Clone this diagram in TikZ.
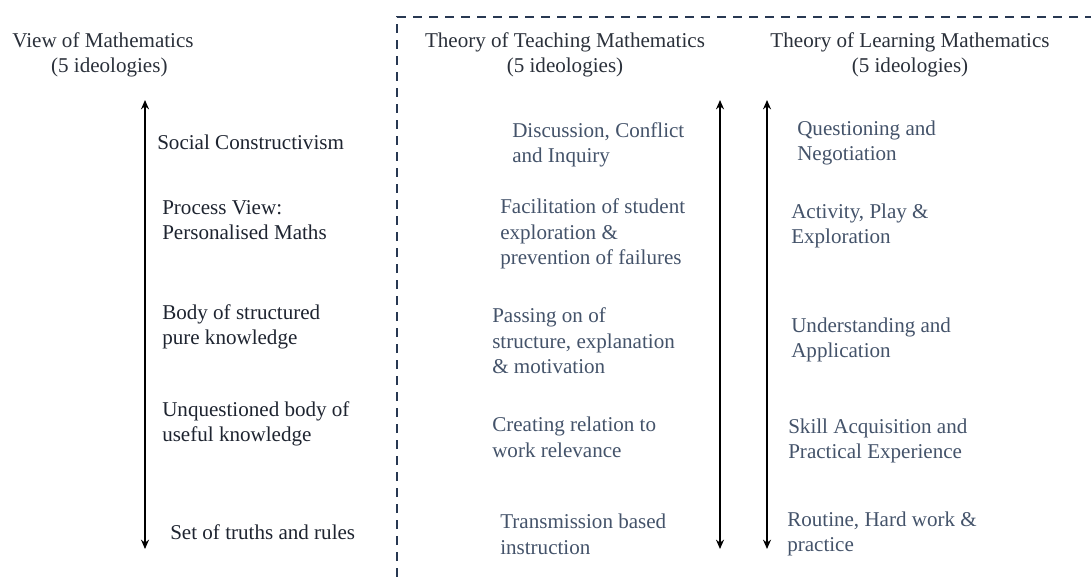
\documentclass[tikz,border=0pt]{standalone}
\usepackage{fontspec}
\setmainfont{Liberation Serif}
\usetikzlibrary{arrows.meta}
\definecolor{lefttxt}{HTML}{1E2430}
\definecolor{righttxt}{HTML}{44536A}
\definecolor{titletxt}{HTML}{2A303A}
\definecolor{dashcol}{HTML}{283852}
\begin{document}
\begin{tikzpicture}[x=0.75pt,y=-0.75pt,
  txt/.style={font=\fontsize{15.8}{19.2}\selectfont, inner sep=0pt, align=left, anchor=west},
  ltxt/.style={txt, text=lefttxt},
  rtxt/.style={txt, text=righttxt},
  ttl/.style={font=\fontsize{15.8}{19.2}\selectfont, inner sep=0pt, align=center, text=titletxt},
  scalearrow/.style={line width=1.5pt, {Stealth[length=7pt,width=6pt]}-{Stealth[length=7pt,width=6pt]}},
  frame/.style={draw=dashcol, line width=2.2pt, dash pattern=on 7pt off 5pt}]
\useasboundingbox (0,0) rectangle (1091,577);
% titles
\node[ttl] (vm) at (103,55) {View of Mathematics\\\hspace*{0.6em}(5 ideologies)};
\node[ttl] (tt) at (565,55) {Theory of Teaching Mathematics\\(5 ideologies)};
\node[ttl] (tl) at (910,55) {Theory of Learning Mathematics\\(5 ideologies)};
% dashed frame
\coordinate (f1) at (397,577);
\coordinate (f2) at (397,17);
\coordinate (f3) at (1091,17);
\draw[frame] (f1) -- (f2) -- (f3);
% arrows
\coordinate (a1t) at (145,100); \coordinate (a1b) at (145,549);
\coordinate (a2t) at (720,100); \coordinate (a2b) at (720,549);
\coordinate (a3t) at (767,100); \coordinate (a3b) at (767,549);
\draw[scalearrow] (a1b) -- (a1t);
\draw[scalearrow] (a2b) -- (a2t);
\draw[scalearrow] (a3b) -- (a3t);
% left column
\node[ltxt] (l1) at (157,142) {Social Constructivism};
\node[ltxt] (l2) at (162,220) {Process View:\\Personalised Maths};
\node[ltxt] (l3) at (162,327) {Body of structured\\pure knowledge};
\node[ltxt] (l4) at (162,424) {Unquestioned body of\\useful knowledge};
\node[ltxt] (l5) at (170,532) {Set of truths and rules};
% middle column
\node[rtxt] (m1) at (512,145) {Discussion, Conflict\\and Inquiry};
\node[rtxt] (m2) at (500,234) {Facilitation of student\\exploration \&\\prevention of failures};
\node[rtxt] (m3) at (492,341) {Passing on of\\structure, explanation\\\& motivation};
\node[rtxt] (m4) at (492,437) {Creating relation to\\work relevance};
\node[rtxt] (m5) at (500,534) {Transmission based\\instruction};
% right column
\node[rtxt] (r1) at (797,143) {Questioning and\\Negotiation};
\node[rtxt] (r2) at (791,226) {Activity, Play \&\\Exploration};
\node[rtxt] (r3) at (791,340) {Understanding and\\Application};
\node[rtxt] (r4) at (788,441) {Skill Acquisition and\\Practical Experience};
\node[rtxt] (r5) at (787,534) {Routine, Hard work \&\\practice};
\end{tikzpicture}
\end{document}
